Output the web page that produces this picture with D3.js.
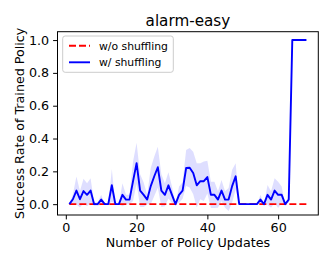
<!DOCTYPE html>
<html>
<head>
<meta charset="utf-8">
<script src="https://cdn.jsdelivr.net/npm/d3@7"></script>
<style>
  body { margin: 0; background: #fff; }
  text { font-family: "DejaVu Sans", sans-serif; fill: #000; }
</style>
</head>
<body>
<svg width="332" height="266"></svg>
<script>
    // values (mean success rate and spread per policy update)
    let updates = d3.range(1, 69)
    let withShuffle = [0, 0.03, 0.083, 0.03, 0.08, 0.057, 0.083, 0, 0, 0.028,
        0, 0, 0.115, 0, 0, 0.057, 0.028, 0.028, 0.14, 0.25,
        0.083, 0.057, 0.028, 0.11, 0.17, 0.225, 0.083, 0.057, 0.115, 0.057,
        0, 0.057, 0.083, 0.22, 0.222, 0.19, 0.115, 0.14, 0.14, 0.165,
        0.057, 0.057, 0.028, 0.083, 0.028, 0.028, 0.11, 0.17, 0, 0,
        0, 0, 0, 0, 0.028, 0, 0.057, 0.028, 0.083, 0.057,
        0.057, 0, 0.028, 1, 1, 1, 1, 1]
    let withShuffleStd = [0, 0.03, 0.085, 0.05, 0.075, 0.07, 0.075, 0.01, 0.01, 0.03,
        0, 0, 0.1, 0, 0, 0.07, 0.03, 0.03, 0.12, 0.125,
        0.1, 0.075, 0.03, 0.11, 0.12, 0.125, 0.1, 0.07, 0.08, 0.05,
        0, 0.05, 0.05, 0.11, 0.12, 0.13, 0.135, 0.11, 0.12, 0.1,
        0.08, 0.08, 0.05, 0.065, 0.05, 0.07, 0.1, 0.08, 0, 0,
        0, 0, 0, 0, 0.03, 0, 0.06, 0.05, 0.075, 0.08,
        0.05, 0, 0.02, 0, 0, 0, 0, 0]
    let withoutShuffle = updates.map(() => 0)
    let xTicks = [0, 20, 40, 60]
    let yTicks = [0, 0.2, 0.4, 0.6, 0.8, 1.0]
    let seriesNames = ["w/o shuffling", "w/ shuffling"]

    let margin = { top: 31.7, right: 13.7, bottom: 51, left: 57.5 }
    let width = 332
    let height = 266

    let svg = d3.select("svg")

    let x = d3.scaleLinear()
        .domain([-2.35, 71.35])
        .range([margin.left, width - margin.right])

    let y = d3.scaleLinear()
        .domain([-0.066, 1.051])
        .range([height - margin.bottom, margin.top])

    let data = updates.map((u, i) => ({
        u: u, m: withShuffle[i], s: withShuffleStd[i], z: withoutShuffle[i]
    }))

    // spread band
    let area = d3.area()
        .x(d => x(d.u))
        .y0(d => y(d.m - d.s))
        .y1(d => y(d.m + d.s))

    svg.append("path")
        .datum(data)
        .attr("d", area)
        .style("fill", "#0000ff")
        .style("fill-opacity", 0.13)
        .style("stroke", "none")

    svg.append("path")
        .datum(data)
        .attr("d", d3.line().x(d => x(d.u)).y(d => y(d.z)))
        .style("fill", "none")
        .style("stroke", "#ff0000")
        .style("stroke-width", 1.9)
        .style("stroke-dasharray", "7,3")

    svg.append("path")
        .datum(data)
        .attr("d", d3.line().x(d => x(d.u)).y(d => y(d.m)))
        .style("fill", "none")
        .style("stroke", "#0000ff")
        .style("stroke-width", 1.9)
        .style("stroke-linejoin", "round")

    let xAxis = svg.append("g")
        .attr("transform", `translate(0, ${height - margin.bottom})`)
        .call(d3.axisBottom(x).tickValues(xTicks).tickSize(4.4).tickPadding(4).tickFormat(d3.format("d")))
    let yAxis = svg.append("g")
        .attr("transform", `translate(${margin.left}, 0)`)
        .call(d3.axisLeft(y).tickValues(yTicks).tickSize(4.4).tickPadding(4).tickFormat(d3.format(".1f")))

    for (let ax of [xAxis, yAxis]) {
        ax.select(".domain").remove()
        ax.selectAll("line").style("stroke", "#000").style("stroke-width", 1)
        ax.selectAll("text")
            .style("font-family", "DejaVu Sans")
            .style("font-size", "12.7px")
    }

    svg.append("rect")
        .attr("x", margin.left)
        .attr("y", margin.top)
        .attr("width", width - margin.right - margin.left)
        .attr("height", height - margin.bottom - margin.top)
        .style("fill", "none")
        .style("stroke", "#000")
        .style("stroke-width", 1)

    svg.append("text")
        .attr("x", (margin.left + width - margin.right) / 2)
        .attr("y", 25.5)
        .attr("text-anchor", "middle")
        .style("font-size", "15.2px")
        .text("alarm-easy")

    svg.append("text")
        .attr("x", (margin.left + width - margin.right) / 2)
        .attr("y", 247)
        .attr("text-anchor", "middle")
        .style("font-size", "12.7px")
        .text("Number of Policy Updates")

    svg.append("text")
        .attr("transform", `translate(24, ${(margin.top + height - margin.bottom) / 2}) rotate(-90)`)
        .attr("text-anchor", "middle")
        .style("font-size", "12.7px")
        .text("Success Rate of Trained Policy")

    // legend
    let legend = svg.append("g")
    legend.append("rect")
        .attr("x", 62.7).attr("y", 36)
        .attr("width", 110.6).attr("height", 36.3)
        .attr("rx", 2.5)
        .style("fill", "#fff").style("fill-opacity", 0.8)
        .style("stroke", "#cccccc").style("stroke-width", 1)

    let legendStyles = [
        { color: "#ff0000", dash: "7,3" },
        { color: "#0000ff", dash: null }
    ]
    seriesNames.forEach((name, i) => {
        let ly = 45.7 + i * 16.6
        legend.append("line")
            .attr("x1", 69).attr("x2", 90)
            .attr("y1", ly).attr("y2", ly)
            .style("stroke", legendStyles[i].color)
            .style("stroke-width", 1.9)
            .style("stroke-dasharray", legendStyles[i].dash)
        legend.append("text")
            .attr("x", 99)
            .attr("y", ly + 3.8)
            .style("font-size", "10.8px")
            .text(name)
    })
</script>
</body>
</html>
